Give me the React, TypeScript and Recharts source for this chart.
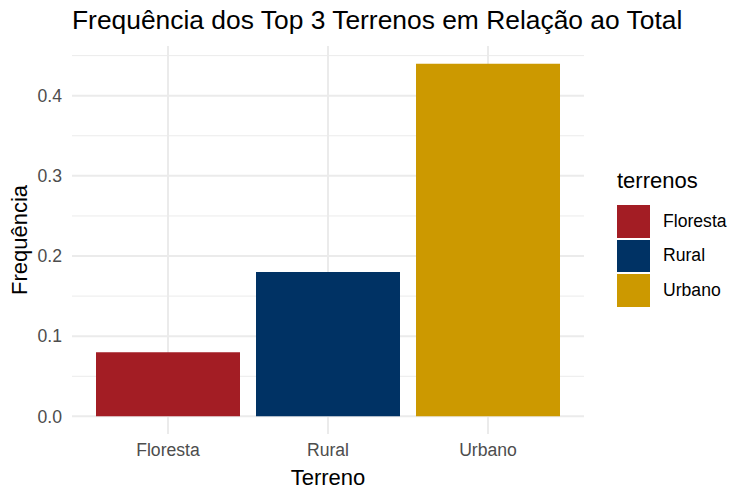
import React from 'react';
import { BarChart, Bar, XAxis, YAxis, CartesianGrid, Cell } from 'recharts';

const terrenos = ['Floresta', 'Rural', 'Urbano'];
const frequencias = [0.08, 0.18, 0.44];
const cores = ['#A31D24', '#003264', '#CC9900'];
const yTicks = [0, 0.1, 0.2, 0.3, 0.4];
const yMinor = [0.05, 0.15, 0.25, 0.35, 0.45];

const data = terrenos.map((t, i) => ({ terreno: t, freq: frequencias[i] }));

const FONT = '"Liberation Sans", Arial, sans-serif';

const LegendBox = () => (
  <div style={{ position: 'absolute', left: 617, top: 168, fontFamily: FONT, color: '#000' }}>
    <div style={{ fontSize: 22, lineHeight: '26px', marginBottom: 10 }}>terrenos</div>
    {terrenos.map((t, i) => (
      <div key={t} style={{ display: 'flex', alignItems: 'center', height: 34.5 }}>
        <div style={{ width: 33, height: 32.5, background: cores[i], marginRight: 13 }} />
        <span style={{ fontSize: 17.6 }}>{t}</span>
      </div>
    ))}
  </div>
);

export default function App() {
  return (
    <div style={{ position: 'absolute', left: 0, top: 0, width: 750, height: 499, background: '#fff', fontFamily: FONT }}>
      <div style={{ position: 'absolute', left: 72, top: 5, fontSize: 26.4, color: '#000', whiteSpace: 'nowrap' }}>
        Frequência dos Top 3 Terrenos em Relação ao Total
      </div>
      <div
        style={{
          position: 'absolute', left: 20, top: 240, fontSize: 22, color: '#000', whiteSpace: 'nowrap',
          transform: 'translate(-50%, -50%) rotate(-90deg)',
        }}
      >
        Frequência
      </div>
      <div
        style={{
          position: 'absolute', left: 328, top: 478, fontSize: 22, color: '#000', whiteSpace: 'nowrap',
          transform: 'translate(-50%, -50%)',
        }}
      >
        Terreno
      </div>
      <LegendBox />
      <BarChart
        width={750}
        height={499}
        data={data}
        margin={{ top: 46, right: 166, bottom: 0, left: 0 }}
        barCategoryGap={8}
      >
        <CartesianGrid stroke="#EBEBEB" strokeWidth={1} vertical={false} horizontalValues={yMinor} />
        <CartesianGrid stroke="#EBEBEB" strokeWidth={2} horizontalValues={yTicks} verticalValues={terrenos} />
        <XAxis
          dataKey="terreno"
          padding={{ left: 16, right: 16 }}
          axisLine={false}
          tickLine={false}
          tickSize={0}
          tickMargin={10}
          height={65}
          tick={{ fill: '#4D4D4D', fontSize: 17.6, fontFamily: FONT }}
        />
        <YAxis
          width={72}
          domain={[-0.022, 0.462]}
          allowDataOverflow
          ticks={yTicks}
          tickFormatter={(v: number) => v.toFixed(1)}
          axisLine={false}
          tickLine={false}
          tickSize={0}
          tickMargin={10}
          tick={{ fill: '#4D4D4D', fontSize: 17.6, fontFamily: FONT }}
        />
        <Bar dataKey="freq" isAnimationActive={false}>
          {data.map((d, i) => (
            <Cell key={d.terreno} fill={cores[i]} />
          ))}
        </Bar>
      </BarChart>
    </div>
  );
}
